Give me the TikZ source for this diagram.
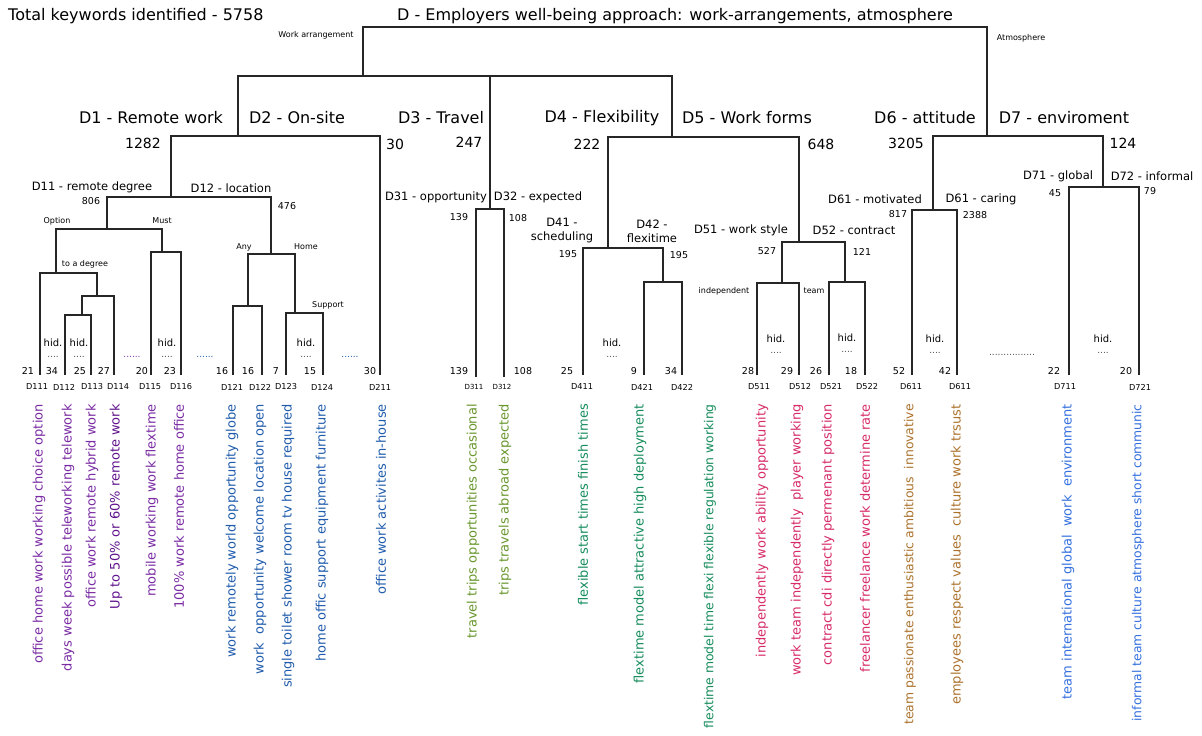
\documentclass[tikz,border=0pt]{standalone}
\usepackage{fontspec}
\setmainfont{DejaVu Sans}
\usetikzlibrary{calc}

\definecolor{remotec}{RGB}{122,44,164}
\definecolor{remotedc}{RGB}{96,20,140}
\definecolor{sitec}{RGB}{32,92,172}
\definecolor{travelc}{RGB}{104,150,44}
\definecolor{flexc}{RGB}{22,140,92}
\definecolor{formc}{RGB}{214,44,104}
\definecolor{attc}{RGB}{172,114,44}
\definecolor{envc}{RGB}{52,112,222}

\begin{document}
\begin{tikzpicture}[x=1pt, y=-1pt,
	link/.style={line width=1.3pt, draw=black!85},
	head/.style={font=\fontsize{16}{19}\selectfont, inner sep=0pt},
	bignum/.style={font=\fontsize{14}{17}\selectfont, inner sep=0pt},
	sub/.style={font=\fontsize{11.5}{14}\selectfont, inner sep=0pt, align=center},
	small/.style={font=\fontsize{9.5}{11}\selectfont, inner sep=0pt},
	tiny/.style={font=\fontsize{8}{10}\selectfont, inner sep=0pt},
	hid/.style={font=\fontsize{10}{12}\selectfont, inner sep=0pt},
	dots/.style={font=\fontsize{9}{11}\selectfont, inner sep=0pt, text=black!70},
	leafnum/.style={font=\fontsize{9.5}{11}\selectfont, inner sep=0pt},
	leafid/.style={font=\fontsize{8.2}{10}\selectfont, inner sep=0pt},
	kw/.style={font=\fontsize{13}{15}\selectfont, inner sep=0pt, rotate=90, anchor=east},
	kwlong/.style={kw, font=\fontsize{12.4}{15}\selectfont},
]

\useasboundingbox (0,0) rectangle (1202,736);

% coordinates %{{{2

	% root and the two main groups
	\coordinate (R)    at (675,27);
	\coordinate (WA)   at (363,76);
	\coordinate (AT)   at (987,136);

	% work arrangement
	\coordinate (G12)  at (238,136);
	\coordinate (D3)   at (490,209);
	\coordinate (G45)  at (672,137);

	% D1 remote work
	\coordinate (D1)   at (171,197);
	\coordinate (D11)  at (107,229);
	\coordinate (D12)  at (271,254);
	\coordinate (Opt)  at (56,273);
	\coordinate (Must) at (162,252);
	\coordinate (Deg)  at (97,296);
	\coordinate (Sub)  at (82,315);
	\coordinate (Any)  at (248,306);
	\coordinate (Home) at (295,313);

	% D4 / D5
	\coordinate (D4)   at (608,248);
	\coordinate (D42)  at (663,282);
	\coordinate (D5)   at (799,242);
	\coordinate (D51)  at (782,283);
	\coordinate (D52)  at (845,282);

	% D6 / D7
	\coordinate (D6)   at (933,210);
	\coordinate (D7)   at (1103,187);

	% leaves (foot of each line)
	\coordinate (D111) at (40,375);
	\coordinate (D112) at (65,375);
	\coordinate (D113) at (91,375);
	\coordinate (D114) at (114,375);
	\coordinate (D115) at (151,375);
	\coordinate (D116) at (181,375);
	\coordinate (D121) at (233,375);
	\coordinate (D122) at (262,375);
	\coordinate (D123) at (286,375);
	\coordinate (D124) at (323,375);
	\coordinate (D211) at (380,375);
	\coordinate (D311) at (476,377);
	\coordinate (D312) at (504,377);
	\coordinate (D411) at (583,375);
	\coordinate (D421) at (644,375);
	\coordinate (D422) at (682,375);
	\coordinate (D511) at (757,375);
	\coordinate (D512) at (799,375);
	\coordinate (D521) at (829,375);
	\coordinate (D522) at (865,375);
	\coordinate (D611) at (912,375);
	\coordinate (D612) at (957,375);
	\coordinate (D711) at (1069,375);
	\coordinate (D721) at (1139,375);

% tree %{{{2

	\draw[link] (WA) |- (R) -| (AT);

	\draw[link] (G12) |- (WA) -| (G45);
	\draw[link] (D3) -- (D3 |- WA);

	% remote work and on-site
	\draw[link] (D1) |- (G12) -| (D211);
	\draw[link] (D11) |- (D1) -| (D12);
	\draw[link] (Opt) |- (D11) -| (Must);
	\draw[link] (D111) |- (Opt) -| (Deg);
	\draw[link] (Sub) |- (Deg) -| (D114);
	\draw[link] (D112) |- (Sub) -| (D113);
	\draw[link] (D115) |- (Must) -| (D116);
	\draw[link] (Any) |- (D12) -| (Home);
	\draw[link] (D121) |- (Any) -| (D122);
	\draw[link] (D123) |- (Home) -| (D124);

	% travel
	\draw[link] (D311) |- (D3) -| (D312);

	% flexibility and work forms
	\draw[link] (D4) |- (G45) -| (D5);
	\draw[link] (D411) |- (D4) -| (D42);
	\draw[link] (D421) |- (D42) -| (D422);
	\draw[link] (D51) |- (D5) -| (D52);
	\draw[link] (D511) |- (D51) -| (D512);
	\draw[link] (D521) |- (D52) -| (D522);

	% attitude and enviroment
	\draw[link] (D6) |- (AT) -| (D7);
	\draw[link] (D611) |- (D6) -| (D612);
	\draw[link] (D711) |- (D7) -| (D721);

% titles %{{{2

	\node[head, anchor=west] (total) at (8,16) {Total keywords identified - 5758};
	\node[head] (title) at (675,16)
		{D - Employers well-being approach: work-arrangements, atmosphere};

	\node[tiny] (lWA) at (316,35) {Work arrangement};
	\node[tiny] (lAT) at (1021,38) {Atmosphere};

% branch labels %{{{2

	\node[head] (lD1) at (151,118) {D1 - Remote work};
	\node[head] (lD2) at (297,118) {D2 - On-site};
	\node[head] (lD3) at (441,118) {D3 - Travel};
	\node[head] (lD4) at (602,118) {D4 - Flexibility};
	\node[head] (lD5) at (747,118) {D5 - Work forms};
	\node[head] (lD6) at (925,118) {D6 - attitude};
	\node[head] (lD7) at (1064,118) {D7 - enviroment};

	\node[bignum] (nD1) at (143,143) {1282};
	\node[bignum] (nD2) at (395,144) {30};
	\node[bignum] (nD3) at (469,142) {247};
	\node[bignum] (nD4) at (587,144) {222};
	\node[bignum] (nD5) at (821,144) {648};
	\node[bignum] (nD6) at (906,143) {3205};
	\node[bignum] (nD7) at (1123,143) {124};

	% second level
	\node[sub] (lD11) at (92,187) {D11 - remote degree};
	\node[sub] (lD12) at (231,188) {D12 - location};
	\node[sub] (lD31) at (436,197) {D31 - opportunity};
	\node[sub] (lD32) at (538,197) {D32 - expected};
	\node[sub] (lD41) at (562,231) {D41 -\\scheduling};
	\node[sub] (lD42) at (652,231) {D42 -\\flexitime};
	\node[sub] (lD51) at (741,230) {D51 - work style};
	\node[sub] (lD52) at (854,230) {D52 - contract};
	\node[sub] (lD61) at (875,199) {D61 - motivated};
	\node[sub] (lD62) at (981,199) {D61 - caring};
	\node[sub] (lD71) at (1058,176) {D71 - global};
	\node[sub] (lD72) at (1152,176) {D72 - informal};

	\node[small] (nD11) at (91,201) {806};
	\node[small] (nD12) at (287,206) {476};
	\node[small] (nD31) at (459,217) {139};
	\node[small] (nD32) at (518,218) {108};
	\node[small] (nD41) at (568,254) {195};
	\node[small] (nD42) at (679,255) {195};
	\node[small] (nD51) at (767,251) {527};
	\node[small] (nD52) at (862,252) {121};
	\node[small] (nD61) at (898,214) {817};
	\node[small] (nD62) at (975,215) {2388};
	\node[small] (nD71) at (1055,193) {45};
	\node[small] (nD72) at (1150,191) {79};

	% split names
	\node[tiny] (lOpt)  at (57,221) {Option};
	\node[tiny] (lMust) at (162,221) {Must};
	\node[tiny] (lDeg)  at (85,264) {to a degree};
	\node[tiny] (lAny)  at (244,247) {Any};
	\node[tiny] (lHome) at (306,247) {Home};
	\node[tiny] (lSup)  at (328,305) {Support};
	\node[tiny] (lInd)  at (724,291) {independent};
	\node[tiny] (lTeam) at (814,291) {team};

% hidden leaves %{{{2

	\node[hid] (h1) at (53,343) {hid.};
	\node[hid] (h2) at (79,343) {hid.};
	\node[hid] (h3) at (167,343) {hid.};
	\node[hid] (h4) at (306,343) {hid.};
	\node[hid] (h5) at (612,343) {hid.};
	\node[hid] (h6) at (776,339) {hid.};
	\node[hid] (h7) at (847,338) {hid.};
	\node[hid] (h8) at (935,339) {hid.};
	\node[hid] (h9) at (1103,339) {hid.};

	\node[dots] (d1) at (53,357) {....};
	\node[dots] (d2) at (79,357) {....};
	\node[dots] (d3) at (167,357) {....};
	\node[dots] (d4) at (306,357) {....};
	\node[dots] (d5) at (612,357) {....};
	\node[dots] (d6) at (776,353) {....};
	\node[dots] (d7) at (847,352) {....};
	\node[dots] (d8) at (935,353) {....};
	\node[dots] (d9) at (1103,353) {....};

	\node[dots, text=remotec] (e1) at (132,357) {......};
	\node[dots, text=sitec]   (e2) at (205,357) {......};
	\node[dots, text=sitec]   (e3) at (350,357) {......};
	\node[dots]               (e4) at (1012,355) {................};

% leaf counts %{{{2

	\node[leafnum] (c111) at (28,371) {21};
	\node[leafnum] (c112) at (52,371) {34};
	\node[leafnum] (c113) at (80,371) {25};
	\node[leafnum] (c114) at (104,371) {27};
	\node[leafnum] (c115) at (142,371) {20};
	\node[leafnum] (c116) at (170,371) {23};
	\node[leafnum] (c121) at (222,371) {16};
	\node[leafnum] (c122) at (248,371) {16};
	\node[leafnum] (c123) at (276,371) {7};
	\node[leafnum] (c124) at (310,371) {15};
	\node[leafnum] (c211) at (370,371) {30};
	\node[leafnum] (c311) at (459,371) {139};
	\node[leafnum] (c312) at (523,371) {108};
	\node[leafnum] (c411) at (567,371) {25};
	\node[leafnum] (c421) at (634,371) {9};
	\node[leafnum] (c422) at (671,371) {34};
	\node[leafnum] (c511) at (748,371) {28};
	\node[leafnum] (c512) at (787,371) {29};
	\node[leafnum] (c521) at (816,371) {26};
	\node[leafnum] (c522) at (851,371) {18};
	\node[leafnum] (c611) at (899,371) {52};
	\node[leafnum] (c612) at (945,371) {42};
	\node[leafnum] (c711) at (1054,371) {22};
	\node[leafnum] (c721) at (1126,371) {20};

% leaf names %{{{2

	\node[leafid] (i111) at (37,387) {D111};
	\node[leafid] (i112) at (64,387) {D112};
	\node[leafid] (i113) at (92,387) {D113};
	\node[leafid] (i114) at (118,387) {D114};
	\node[leafid] (i115) at (150,387) {D115};
	\node[leafid] (i116) at (181,387) {D116};
	\node[leafid] (i121) at (232,387) {D121};
	\node[leafid] (i122) at (260,387) {D122};
	\node[leafid] (i123) at (286,387) {D123};
	\node[leafid] (i124) at (322,387) {D124};
	\node[leafid] (i211) at (380,387) {D211};
	\node[leafid, font=\fontsize{7}{9}\selectfont] (i311) at (474,387) {D311};
	\node[leafid, font=\fontsize{7}{9}\selectfont] (i312) at (502,387) {D312};
	\node[leafid] (i411) at (582,387) {D411};
	\node[leafid] (i421) at (642,387) {D421};
	\node[leafid] (i422) at (682,387) {D422};
	\node[leafid] (i511) at (759,387) {D511};
	\node[leafid] (i512) at (800,387) {D512};
	\node[leafid] (i521) at (831,387) {D521};
	\node[leafid] (i522) at (867,387) {D522};
	\node[leafid] (i611) at (911,387) {D611};
	\node[leafid] (i612) at (960,387) {D611};
	\node[leafid] (i711) at (1065,387) {D711};
	\node[leafid] (i721) at (1140,387) {D721};

% keywords %{{{2

	\node[kw, text=remotec]  (k1)  at (39,404)  {office home work working choice option};
	\node[kw, text=remotec]  (k2)  at (68,404)  {days week possible teleworking telework};
	\node[kw, text=remotec]  (k3)  at (92,404)  {office work remote hybrid work};
	\node[kw, text=remotedc] (k4)  at (116,404) {Up to 50\% or 60\% remote work};
	\node[kw, text=remotec]  (k5)  at (152,404) {mobile working work flextime};
	\node[kw, text=remotec]  (k6)  at (179,404) {100\% work remote home office};

	\node[kw, text=sitec] (k7)  at (232,404) {work remotely world opportunity globe};
	\node[kw, text=sitec] (k8)  at (260,404) {work\ \ opportunity welcome location open};
	\node[kw, text=sitec] (k9)  at (288,404) {single toilet shower room tv house required};
	\node[kw, text=sitec] (k10) at (322,404) {home offic support equipment furniture};
	\node[kw, text=sitec] (k11) at (381,404) {office work activites in-house};

	\node[kw, text=travelc] (k12) at (473,404) {travel trips opportunities occasional};
	\node[kw, text=travelc] (k13) at (505,404) {trips travels abroad expected};

	\node[kw, text=flexc] (k14) at (583,404) {flexible start times finish times};
	\node[kw, text=flexc] (k15) at (640,404) {flextime model attractive high deployment};
	\node[kwlong, text=flexc] (k16) at (710,404) {flextime model time flexi flexible regulation working};

	\node[kw, text=formc] (k17) at (762,404) {independently work ability opportunity};
	\node[kw, text=formc] (k18) at (797,404) {work team independently\ \ player working};
	\node[kw, text=formc] (k19) at (828,404) {contract cdi directly permenant position};
	\node[kw, text=formc] (k20) at (865,404) {freelancer freelance work determine rate};

	\node[kwlong, text=attc] (k21) at (910,404) {team passionate enthusiastic ambitious\ \ innovative};
	\node[kw, text=attc] (k22) at (957,404) {employees respect values\ \ culture work trsust};

	\node[kw, text=envc] (k23) at (1068,404) {team international global\ \ work\ \ environment};
	\node[kwlong, text=envc] (k24) at (1138,404) {informal team culture atmosphere short communic};

% closing %{{{2

\end{tikzpicture}
\end{document}
